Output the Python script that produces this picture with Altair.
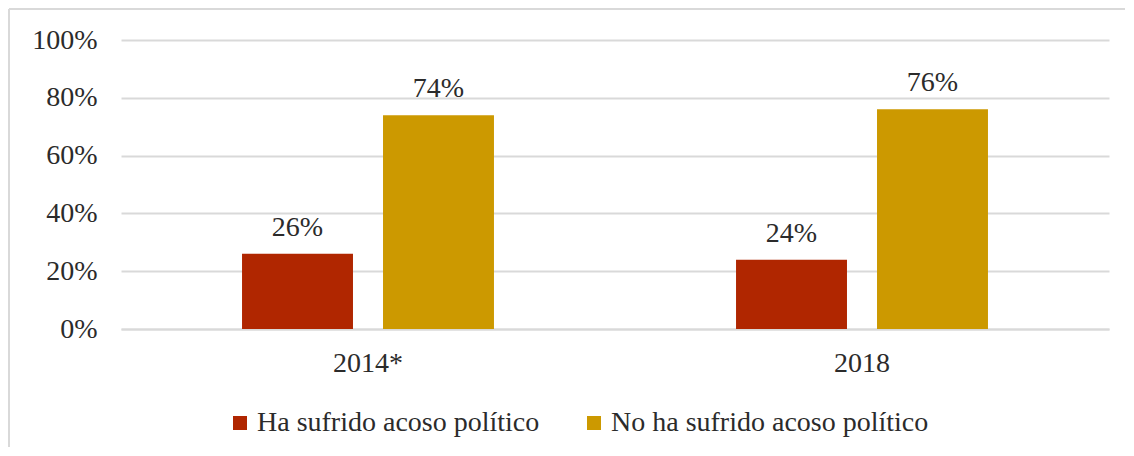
import altair as alt
import pandas as pd

years = ["2014*", "2018"]
series = ["Ha sufrido acoso político", "No ha sufrido acoso político"]
ha_sufrido = [0.26, 0.24]
no_ha_sufrido = [0.74, 0.76]
colors = ["#B02600", "#CC9900"]
y_ticks = [0, 0.2, 0.4, 0.6, 0.8, 1.0]

rows = []
for i, yr in enumerate(years):
    rows.append({"year": yr, "serie": series[0], "value": ha_sufrido[i]})
    rows.append({"year": yr, "serie": series[1], "value": no_ha_sufrido[i]})
df = pd.DataFrame(rows)

FONT = "Liberation Serif"
GRID = "#D9D9D9"
TXT = "#2b2b2b"

x = alt.X(
    "year:N", sort=years,
    scale=alt.Scale(paddingInner=0.49, paddingOuter=0.245),
    axis=alt.Axis(title=None, labelAngle=0, ticks=False, domain=True,
                  domainColor=GRID, domainWidth=2, grid=False,
                  labelFont=FONT, labelFontSize=28, labelColor=TXT,
                  labelPadding=20),
)
xo = alt.XOffset("serie:N", sort=series,
                 scale=alt.Scale(paddingInner=0.213, paddingOuter=0))
y = alt.Y(
    "value:Q", scale=alt.Scale(domain=[0, 1]),
    axis=alt.Axis(title=None, values=y_ticks, format=".0%", domain=False,
                  ticks=False, grid=True, gridColor=GRID, gridWidth=2,
                  labelFont=FONT, labelFontSize=28, labelColor=TXT,
                  labelPadding=24),
)
color = alt.Color(
    "serie:N", sort=series,
    scale=alt.Scale(domain=series, range=colors),
    legend=alt.Legend(title=None, orient="none", direction="horizontal",
                      legendX=105, legendY=369, symbolType="square",
                      symbolSize=196, symbolStrokeWidth=0,
                      labelFont=FONT, labelFontSize=28, labelColor=TXT,
                      labelOffset=3, columnPadding=40, labelLimit=500),
)

bars = alt.Chart(df).mark_bar().encode(x=x, xOffset=xo, y=y, color=color)
labels = alt.Chart(df).mark_text(
    baseline="alphabetic", dy=-18, font=FONT, fontSize=28, color=TXT
).encode(x=x, xOffset=xo, y=y, text=alt.Text("value:Q", format=".0%"))

border_data = alt.Data(values=[{"k": 1}])
left_border = alt.Chart(border_data).mark_rule(color=GRID, strokeWidth=2).encode(
    x=alt.value(-112), y=alt.value(-31), y2=alt.value(407))
top_border = alt.Chart(border_data).mark_rule(color=GRID, strokeWidth=2).encode(
    x=alt.value(-112), x2=alt.value(1004), y=alt.value(-31))

chart = alt.layer(left_border, top_border, bars, labels).properties(
    width=988, height=289, padding=0
).configure_view(strokeWidth=0)

chart.save("out.html", embed_options={"renderer": "svg", "actions": False})
